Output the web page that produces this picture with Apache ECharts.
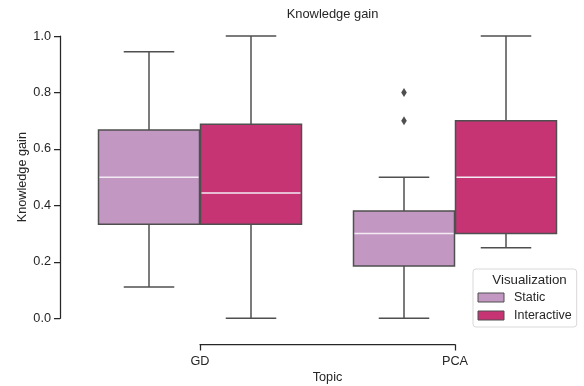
<!DOCTYPE html>
<html><head><meta charset="utf-8">
<script src="https://cdn.jsdelivr.net/npm/echarts@6/dist/echarts.min.js"></script>
<style>html,body{margin:0;padding:0;background:#fff}#c{width:584px;height:386px}</style>
</head><body><div id="c"></div>
<script>
const categories = ['GD', 'PCA'];
const seriesNames = ['Static', 'Interactive'];
// [lower whisker, Q1, median, Q3, upper whisker] per category
const staticBoxes = [[0.111, 0.333, 0.5, 0.667, 0.944], [0, 0.185, 0.3, 0.38, 0.5]];
const interactiveBoxes = [[0, 0.333, 0.444, 0.687, 1.0], [0.25, 0.3, 0.5, 0.7, 1.0]];
// [category, value]
const staticOutliers = [['PCA', 0.8], ['PCA', 0.7]];
const yMin = 0, yMax = 1, yStep = 0.2;

const STATIC_COLOR = '#c298c3';
const INTER_COLOR = '#c63474';
const EDGE = '#4f4f4f';
const MEDIAN = '#f3eaf3';
const TEXT = '#262626';
const FONT = '"Liberation Sans", Arial, sans-serif';

function boxRenderer(offsetFrac, color) {
  return function (params, api) {
    const cat = api.value(0);
    const band = api.size([1, 0])[0];
    const cx = api.coord([cat, 0])[0] + offsetFrac * band;
    const w = 0.4 * band - 1;
    const y = k => api.coord([cat, api.value(k)])[1];
    const lo = y(1), q1 = y(2), med = y(3), q3 = y(4), hi = y(5);
    const edge = { stroke: EDGE, lineWidth: 1.5 };
    return {
      type: 'group', children: [
        { type: 'line', shape: { x1: cx, y1: q3, x2: cx, y2: hi }, style: edge },
        { type: 'line', shape: { x1: cx, y1: q1, x2: cx, y2: lo }, style: edge },
        { type: 'line', shape: { x1: cx - w / 4, y1: hi, x2: cx + w / 4, y2: hi }, style: edge },
        { type: 'line', shape: { x1: cx - w / 4, y1: lo, x2: cx + w / 4, y2: lo }, style: edge },
        { type: 'rect', shape: { x: cx - w / 2, y: q3, width: w, height: q1 - q3 }, style: { fill: color, stroke: EDGE, lineWidth: 1.5 } },
        { type: 'line', shape: { x1: cx - w / 2 + 1, y1: med, x2: cx + w / 2 - 1, y2: med }, style: { stroke: MEDIAN, lineWidth: 1.5 } }
      ]
    };
  };
}

function outlierRenderer(offsetFrac) {
  return function (params, api) {
    const cat = api.value(0);
    const band = api.size([1, 0])[0];
    const p = api.coord([cat, api.value(1)]);
    const cx = p[0] + offsetFrac * band, cy = p[1];
    return {
      type: 'polygon',
      shape: { points: [[cx, cy - 4.5], [cx + 2.8, cy], [cx, cy + 4.5], [cx - 2.8, cy]] },
      style: { fill: EDGE }
    };
  };
}

const toRows = boxes => boxes.map((b, i) => [i].concat(b));

const option = {
  animation: false,
  backgroundColor: '#fff',
  textStyle: { fontFamily: FONT, color: TEXT },
  title: [
    { text: 'Knowledge gain', left: 327.5, top: 3, textAlign: 'center',
      textStyle: { fontFamily: FONT, fontSize: 12.9, fontWeight: 'normal', color: TEXT } },
    { text: 'Visualization', left: 524.5, top: 269, textAlign: 'center',
      textStyle: { fontFamily: FONT, fontSize: 13.3, fontWeight: 'normal', color: TEXT } }
  ],
  legend: {
    data: [
      { name: seriesNames[0], itemStyle: { color: STATIC_COLOR, borderColor: EDGE, borderWidth: 1 } },
      { name: seriesNames[1], itemStyle: { color: INTER_COLOR, borderColor: EDGE, borderWidth: 1 } }
    ],
    orient: 'vertical', left: 473, top: 269,
    padding: [22, 5, 5, 4.5],
    icon: 'rect', itemWidth: 26, itemHeight: 9, itemGap: 5,
    borderColor: '#d9d9d9', borderWidth: 1, borderRadius: 3, backgroundColor: '#fff',
    textStyle: { fontFamily: FONT, fontSize: 12.5, color: TEXT, padding: [0, 0, 0, 5] }
  },
  grid: [
    { left: 72.5, right: 1.5, top: 21.9, bottom: 53.6 },
    { left: 60, top: 36, height: 282.3, width: 500 },
    { left: 200, width: 255, top: 334.6, height: 10 }
  ],
  xAxis: [
    { gridIndex: 0, type: 'category', data: categories, show: false },
    { gridIndex: 1, type: 'value', show: false },
    { gridIndex: 2, type: 'category', data: categories, boundaryGap: false,
      axisLine: { lineStyle: { color: TEXT, width: 1.25 } },
      axisTick: { length: 6, lineStyle: { color: TEXT, width: 1.25 } },
      axisLabel: { margin: 10, fontSize: 12.7, color: TEXT, fontFamily: FONT },
      name: 'Topic', nameLocation: 'middle', nameGap: 26, nameMoveOverlap: false,
      nameTextStyle: { fontSize: 12.7, color: TEXT, fontFamily: FONT } }
  ],
  yAxis: [
    { gridIndex: 0, type: 'value', min: yMin - 0.05, max: yMax + 0.05, show: false },
    { gridIndex: 1, type: 'value', min: yMin, max: yMax, interval: yStep,
      axisLine: { show: true, lineStyle: { color: TEXT, width: 1.25 } },
      axisTick: { show: true, length: 6, lineStyle: { color: TEXT, width: 1.25 } },
      axisLabel: { margin: 9, fontSize: 12.7, color: TEXT, fontFamily: FONT, formatter: v => v.toFixed(1) },
      splitLine: { show: false },
      name: 'Knowledge gain', nameLocation: 'middle', nameGap: 31, nameMoveOverlap: false,
      nameTextStyle: { fontSize: 12.7, color: TEXT, fontFamily: FONT } },
    { gridIndex: 2, type: 'value', show: false }
  ],
  series: [
    { name: seriesNames[0], type: 'custom', xAxisIndex: 0, yAxisIndex: 0,
      renderItem: boxRenderer(-0.2, STATIC_COLOR), itemStyle: { color: STATIC_COLOR },
      encode: { x: 0, y: [1, 2, 3, 4, 5] }, data: toRows(staticBoxes) },
    { name: seriesNames[1], type: 'custom', xAxisIndex: 0, yAxisIndex: 0,
      renderItem: boxRenderer(0.2, INTER_COLOR), itemStyle: { color: INTER_COLOR },
      encode: { x: 0, y: [1, 2, 3, 4, 5] }, data: toRows(interactiveBoxes) },
    { name: 'Static outliers', type: 'custom', xAxisIndex: 0, yAxisIndex: 0,
      renderItem: outlierRenderer(-0.2),
      encode: { x: 0, y: 1 }, data: staticOutliers }
  ]
};

const chart = echarts.init(document.getElementById('c'), null, { renderer: 'canvas' });
chart.setOption(option);
</script>
</body></html>
